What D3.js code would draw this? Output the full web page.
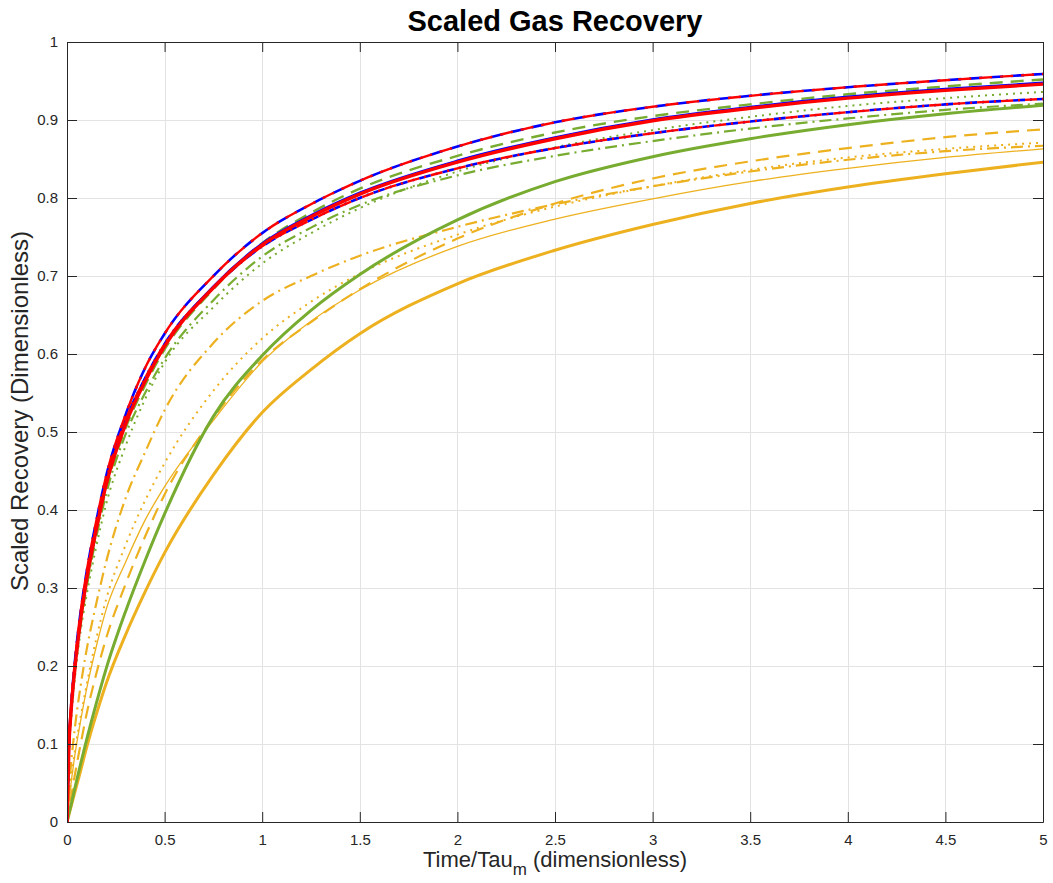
<!DOCTYPE html>
<html>
<head>
<meta charset="utf-8">
<script src="https://cdn.jsdelivr.net/npm/d3@7"></script>
<style>
	body { margin: 0; background: #fff; }
	svg { display: block; font-family: "Liberation Sans", Arial, Helvetica, sans-serif; }
</style>
</head>
<body>
<svg id="chart" width="1053" height="883"></svg>
<script>
// sample times (Time/Tau_m)
var times = [0, 0.01, 0.02, 0.04, 0.07, 0.1, 0.15, 0.2, 0.3, 0.4, 0.5, 0.75, 1, 1.25, 1.5, 2, 2.5, 3, 3.5, 4, 4.5, 5];

// recovery curves
var orangeThick   = [0, 0.0095, 0.019, 0.038, 0.066, 0.095, 0.138, 0.177, 0.24, 0.295, 0.345, 0.445, 0.525, 0.58, 0.626, 0.69, 0.733, 0.766, 0.793, 0.814, 0.831, 0.846];
var orangeThin    = [0, 0.025, 0.048, 0.085, 0.13, 0.17, 0.225, 0.272, 0.333, 0.387, 0.43, 0.515, 0.59, 0.642, 0.682, 0.738, 0.773, 0.799, 0.821, 0.838, 0.852, 0.863];
var orangeDash    = [0, 0.015, 0.03, 0.06, 0.10, 0.138, 0.19, 0.235, 0.305, 0.366, 0.42, 0.518, 0.592, 0.641, 0.683, 0.748, 0.793, 0.825, 0.847, 0.864, 0.878, 0.888];
var orangeDot     = [0, 0.027, 0.05, 0.09, 0.135, 0.175, 0.235, 0.285, 0.355, 0.412, 0.46, 0.553, 0.62, 0.667, 0.703, 0.753, 0.789, 0.815, 0.836, 0.852, 0.863, 0.871];
var orangeDashDot = [0, 0.04, 0.072, 0.12, 0.175, 0.22, 0.28, 0.333, 0.415, 0.474, 0.528, 0.614, 0.668, 0.70, 0.726, 0.763, 0.792, 0.815, 0.834, 0.849, 0.86, 0.867];

var greenThick    = [0, 0.011, 0.021, 0.043, 0.075, 0.105, 0.152, 0.196, 0.27, 0.335, 0.395, 0.52, 0.598, 0.656, 0.702, 0.772, 0.821, 0.853, 0.876, 0.894, 0.908, 0.919];
var greenDash     = [0, 0.095, 0.138, 0.195, 0.258, 0.305, 0.372, 0.427, 0.505, 0.56, 0.606, 0.683, 0.742, 0.781, 0.812, 0.854, 0.884, 0.905, 0.920, 0.933, 0.943, 0.952];
var greenDot      = [0, 0.09, 0.128, 0.183, 0.245, 0.29, 0.353, 0.407, 0.482, 0.542, 0.589, 0.66, 0.716, 0.755, 0.787, 0.834, 0.865, 0.887, 0.904, 0.918, 0.928, 0.936];
var greenDashDot  = [0, 0.094, 0.134, 0.19, 0.252, 0.30, 0.365, 0.42, 0.497, 0.55, 0.594, 0.669, 0.725, 0.762, 0.791, 0.829, 0.854, 0.873, 0.889, 0.902, 0.913, 0.921];

var blueSolid     = [0, 0.099, 0.141, 0.198, 0.262, 0.312, 0.377, 0.434, 0.512, 0.567, 0.612, 0.687, 0.742, 0.778, 0.807, 0.848, 0.878, 0.901, 0.917, 0.930, 0.940, 0.948];
var blueDash      = [0, 0.10, 0.145, 0.205, 0.27, 0.32, 0.386, 0.443, 0.522, 0.582, 0.626, 0.70, 0.755, 0.792, 0.822, 0.866, 0.897, 0.917, 0.931, 0.942, 0.951, 0.959];
var blueDashDot   = [0, 0.10, 0.142, 0.20, 0.265, 0.315, 0.38, 0.437, 0.515, 0.569, 0.613, 0.685, 0.738, 0.772, 0.80, 0.838, 0.864, 0.883, 0.898, 0.910, 0.920, 0.927];

var redSolid      = [0, 0.098, 0.139, 0.196, 0.26, 0.31, 0.375, 0.432, 0.51, 0.565, 0.61, 0.685, 0.740, 0.776, 0.805, 0.846, 0.876, 0.899, 0.915, 0.928, 0.938, 0.946];
var redDash       = [0, 0.10, 0.145, 0.205, 0.27, 0.32, 0.386, 0.443, 0.522, 0.582, 0.626, 0.70, 0.755, 0.792, 0.822, 0.866, 0.897, 0.917, 0.931, 0.942, 0.951, 0.959];
var redDashDot    = [0, 0.10, 0.142, 0.20, 0.265, 0.315, 0.38, 0.437, 0.515, 0.569, 0.613, 0.685, 0.738, 0.772, 0.80, 0.838, 0.864, 0.883, 0.898, 0.910, 0.920, 0.927];

var xTicks = [0, 0.5, 1, 1.5, 2, 2.5, 3, 3.5, 4, 4.5, 5];
var yTicks = [0, 0.1, 0.2, 0.3, 0.4, 0.5, 0.6, 0.7, 0.8, 0.9, 1];

var colors = { orange: '#edb120', green: '#77ac30', blue: '#0000ff', red: '#ff0000' };
var dashes = { solid: null, dash: '13,8', dot: '2,5', dashdot: '12,5,2,5' };

// draw order: orange, green, blue, red (red ends up on top)
var series = [
	{ v: orangeThick,   c: 'orange', s: 'solid',   w: 3 },
	{ v: orangeThin,    c: 'orange', s: 'solid',   w: 1.3 },
	{ v: orangeDash,    c: 'orange', s: 'dash',    w: 2.2 },
	{ v: orangeDot,     c: 'orange', s: 'dot',     w: 2 },
	{ v: orangeDashDot, c: 'orange', s: 'dashdot', w: 2.2 },
	{ v: greenThick,    c: 'green',  s: 'solid',   w: 3 },
	{ v: greenDot,      c: 'green',  s: 'dot',     w: 2 },
	{ v: greenDashDot,  c: 'green',  s: 'dashdot', w: 2.2 },
	{ v: greenDash,     c: 'green',  s: 'dash',    w: 2.4 },
	{ v: blueSolid,     c: 'blue',   s: 'solid',   w: 2 },
	{ v: blueDash,      c: 'blue',   s: 'dash',    w: 2.6, off: 10 },
	{ v: blueDashDot,   c: 'blue',   s: 'dashdot', w: 2.6, off: 12 },
	{ v: redSolid,      c: 'red',    s: 'solid',   w: 3.4 },
	{ v: redDash,       c: 'red',    s: 'dash',    w: 2.4 },
	{ v: redDashDot,    c: 'red',    s: 'dashdot', w: 2.4 }
];

var margin = { left: 67, right: 10, top: 42, bottom: 61 };
var W = 1053, H = 883;
var svg = d3.select('#chart');

var x = d3.scaleLinear().domain([0, 5]).range([margin.left, W - margin.right]);
var y = d3.scaleLinear().domain([0, 1]).range([H - margin.bottom, margin.top]);

//grid
var grid = svg.append('g').attr('stroke', '#e3e3e3').attr('stroke-width', 1);
grid.selectAll('.gx').data(xTicks.slice(1, -1)).enter().append('line')
	.attr('x1', function(d){ return Math.round(x(d)) + 0.5; })
	.attr('x2', function(d){ return Math.round(x(d)) + 0.5; })
	.attr('y1', y(0)).attr('y2', y(1));
grid.selectAll('.gy').data(yTicks.slice(1, -1)).enter().append('line')
	.attr('y1', function(d){ return Math.round(y(d)) + 0.5; })
	.attr('y2', function(d){ return Math.round(y(d)) + 0.5; })
	.attr('x1', x(0)).attr('x2', x(5));

svg.append('clipPath').attr('id', 'plotclip').append('rect')
	.attr('x', x(0)).attr('y', y(1)).attr('width', x(5) - x(0)).attr('height', y(0) - y(1));

var line = d3.line()
	.x(function(d, i){ return x(times[i]); })
	.y(function(d){ return y(d); })
	.curve(d3.curveMonotoneX);

svg.append('g').attr('clip-path', 'url(#plotclip)')
	.selectAll('path')
	.data(series)
	.enter()
	.append('path')
	.attr('d', function(d){ return line(d.v); })
	.attr('fill', 'none')
	.attr('stroke', function(d){ return colors[d.c]; })
	.attr('stroke-width', function(d){ return d.w; })
	.attr('stroke-dasharray', function(d){ return dashes[d.s]; })
	.attr('stroke-dashoffset', function(d){ return d.off || 0; })
	.attr('stroke-linejoin', 'round');

//axes: d3 axes with inner ticks, plus the top and right box sides
var axisColor = '#262626';
var tickLen = 10;

var gx = svg.append('g').attr('transform', 'translate(0,' + y(0) + ')')
	.call(d3.axisBottom(x).tickValues(xTicks).tickFormat(d3.format('')).tickSizeInner(-tickLen).tickSizeOuter(0).tickPadding(12));
var gy = svg.append('g').attr('transform', 'translate(' + x(0) + ',0)')
	.call(d3.axisLeft(y).tickValues(yTicks).tickFormat(d3.format('')).tickSizeInner(-tickLen).tickSizeOuter(0).tickPadding(9));
var gt = svg.append('g').attr('transform', 'translate(0,' + y(1) + ')')
	.call(d3.axisTop(x).tickValues(xTicks).tickFormat('').tickSizeInner(-tickLen).tickSizeOuter(0));
var gr = svg.append('g').attr('transform', 'translate(' + x(5) + ',0)')
	.call(d3.axisRight(y).tickValues(yTicks).tickFormat('').tickSizeInner(-tickLen).tickSizeOuter(0));

[gx, gy, gt, gr].forEach(function(g){
	g.selectAll('path').attr('stroke', axisColor).attr('stroke-width', 1);
	g.selectAll('line').attr('stroke', axisColor).attr('stroke-width', 1);
	g.selectAll('text').attr('fill', '#262626').style('font-size', '15px')
		.style('font-family', '"Liberation Sans", Arial, sans-serif');
});

//title and labels
svg.append('text')
	.attr('x', 555).attr('y', 31)
	.attr('text-anchor', 'middle')
	.style('font-size', '29px').style('font-weight', 'bold')
	.text('Scaled Gas Recovery');

var xl = svg.append('text')
	.attr('x', 555).attr('y', 867)
	.attr('text-anchor', 'middle')
	.attr('fill', '#262626')
	.style('font-size', '22px');
xl.append('tspan').text('Time/Tau');
xl.append('tspan').attr('dy', 8).style('font-size', '17px').text('m');
xl.append('tspan').attr('dy', -8).text(' (dimensionless)');

svg.append('text')
	.attr('transform', 'translate(28,411) rotate(-90)')
	.attr('text-anchor', 'middle')
	.attr('fill', '#262626')
	.style('font-size', '24px')
	.text('Scaled Recovery (Dimensionless)');
</script>
</body>
</html>
